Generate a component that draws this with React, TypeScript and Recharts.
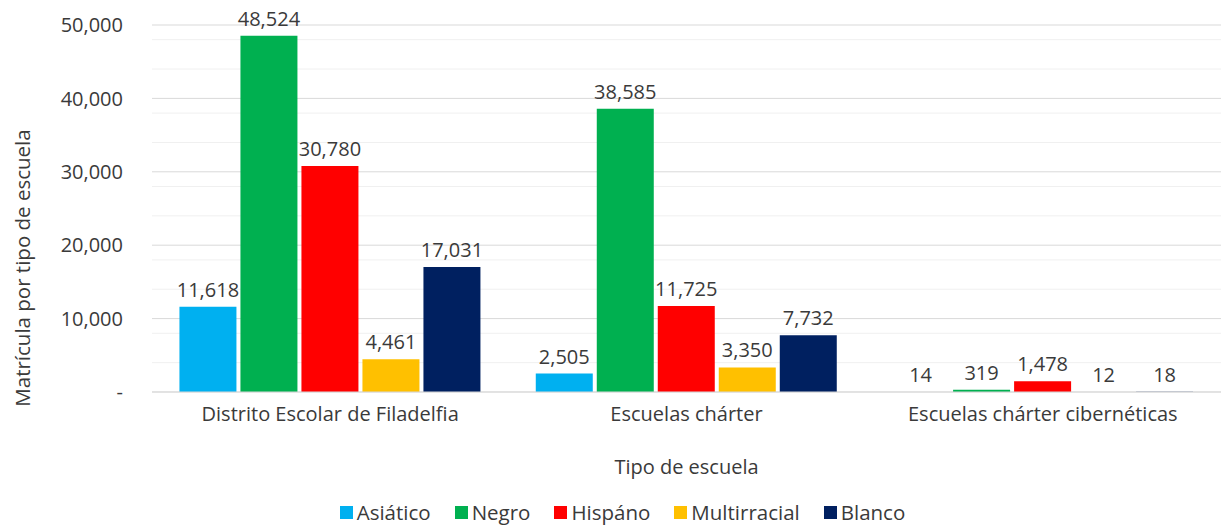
import React from 'react'
import { BarChart, Bar, XAxis, YAxis, CartesianGrid, LabelList, Legend, Label } from 'recharts'

const CATEGORIES = ['Distrito Escolar de Filadelfia', 'Escuelas chárter', 'Escuelas chárter cibernéticas']
const ASIATICO = [11618, 2505, 14]
const NEGRO = [48524, 38585, 319]
const HISPANO = [30780, 11725, 1478]
const MULTIRRACIAL = [4461, 3350, 12]
const BLANCO = [17031, 7732, 18]

const SERIES = [
  { key: 'asiatico', name: 'Asiático', values: ASIATICO, color: '#00B0F0' },
  { key: 'negro', name: 'Negro', values: NEGRO, color: '#00B050' },
  { key: 'hispano', name: 'Hispáno', values: HISPANO, color: '#FF0000' },
  { key: 'multi', name: 'Multirracial', values: MULTIRRACIAL, color: '#FFC000' },
  { key: 'blanco', name: 'Blanco', values: BLANCO, color: '#002060' },
]

const MAJOR_TICKS = [0, 10000, 20000, 30000, 40000, 50000]
const MINOR_TICKS = [2000, 4000, 6000, 8000, 12000, 14000, 16000, 18000, 22000, 24000, 26000, 28000, 32000, 34000, 36000, 38000, 42000, 44000, 46000, 48000]

const data = CATEGORIES.map((c, i) => {
  const row: any = { name: c }
  SERIES.forEach((s) => { row[s.key] = s.values[i] })
  return row
})

const FONT = '"Open Sans", sans-serif'
const TEXT = '#3a3a3a'
const FS = 20
const fmt = (v: number) => (v === 0 ? '-' : v.toLocaleString('en-US'))

function LegendContent() {
  return (
    <div style={{ display: 'flex', justifyContent: 'center', fontFamily: FONT, fontSize: 20.5, color: TEXT, paddingLeft: 24, paddingTop: 6, lineHeight: '28px' }}>
      {SERIES.map((s, i) => (
        <div key={s.key} style={{ display: 'flex', alignItems: 'center', marginLeft: i === 0 ? 0 : 24 }}>
          <span style={{ width: 13, height: 13, background: s.color, display: 'inline-block', marginRight: 4 }} />
          <span>{s.name}</span>
        </div>
      ))}
    </div>
  )
}

function YTitle() {
  return (
    <text x={22} y={268} transform="rotate(-90 22 268)" textAnchor="middle" dominantBaseline="central"
      style={{ fontFamily: FONT, fontSize: 20.5, fill: TEXT }}>
      Matrícula por tipo de escuela
    </text>
  )
}

export default function App() {
  return (
    <div style={{ position: 'absolute', left: 0, top: 0, background: '#fff' }}>
      <BarChart width={1225} height={526} data={data}
        margin={{ top: 25, right: 4, left: 0, bottom: 0 }}
        barCategoryGap="7.7%" barGap={4}>
        <CartesianGrid vertical={false} stroke="#f0f0f0" horizontalValues={MINOR_TICKS} />
        <CartesianGrid vertical={false} stroke="#d9d9d9" horizontalValues={MAJOR_TICKS} />
        <XAxis dataKey="name" height={100} tickLine={false} axisLine={{ stroke: '#d9d9d9' }}
          tickMargin={9} tick={{ fill: TEXT, fontSize: FS, fontFamily: FONT }} interval={0}>
          <Label value="Tipo de escuela" position="insideBottom" offset={18}
            style={{ fill: TEXT, fontSize: FS, fontFamily: FONT }} />
        </XAxis>
        <YAxis width={152} domain={[0, 50000]} ticks={MAJOR_TICKS} tickFormatter={fmt}
          tickLine={false} axisLine={false} tickMargin={23}
          tick={{ fill: TEXT, fontSize: FS, fontFamily: FONT }}
          label={<YTitle />} />
        <Legend verticalAlign="bottom" height={34} content={<LegendContent />} />
        {SERIES.map((s) => (
          <Bar key={s.key} dataKey={s.key} name={s.name} fill={s.color} isAnimationActive={false}>
            <LabelList dataKey={s.key} position="top" offset={10} formatter={(v: any) => Number(v).toLocaleString('en-US')}
              style={{ fill: TEXT, fontSize: FS, fontFamily: FONT }} />
          </Bar>
        ))}
      </BarChart>
    </div>
  )
}
